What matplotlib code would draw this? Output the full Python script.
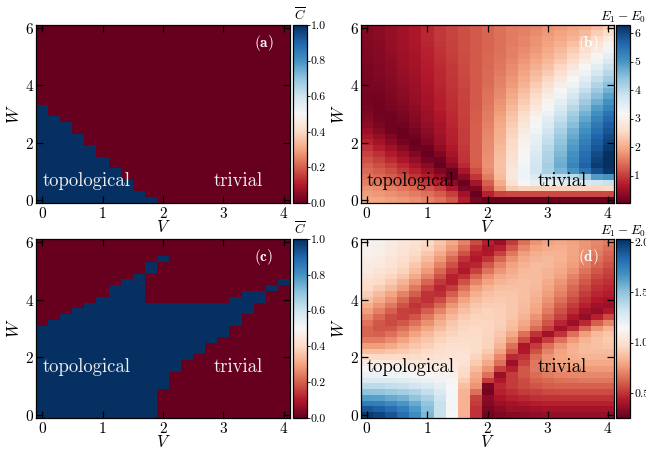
import numpy as np
import matplotlib
matplotlib.use("Agg")
import matplotlib.pyplot as plt

plt.rcParams['font.family'] = ['cmr10', 'DejaVu Serif']
plt.rcParams['mathtext.fontset'] = 'cm'
plt.rcParams['axes.formatter.use_mathtext'] = True
plt.rcParams['axes.unicode_minus'] = False

# grid
V_vals = [round(0.2 * i, 1) for i in range(21)]          # 0.0 .. 4.0
W_vals = [round(0.2 * j, 1) for j in range(31)]          # 0.0 .. 6.0

# (a) topological (C=1) cells: per V column, list of (W_low, W_high) intervals
topo_a = [[(0.0, 3.2)], [(0.0, 2.8)], [(0.0, 2.6)], [(0.0, 2.2)], [(0.0, 1.8)],
          [(0.0, 1.4)], [(0.0, 1.0)], [(0.0, 0.6)], [(0.0, 0.2)], [(0.0, 0.0)],
          [], [], [], [], [], [], [], [], [], [], []]

# (c) topological cells
topo_c = [[(0.0, 3.0)], [(0.0, 3.2)], [(0.0, 3.4)], [(0.0, 3.6)], [(0.0, 3.8)],
          [(0.0, 4.0)], [(0.0, 4.4)], [(0.0, 4.6)], [(0.0, 4.8)],
          [(0.0, 3.8), (5.0, 5.2)], [(1.0, 3.8), (5.4, 5.4)],
          [(1.6, 3.8)], [(2.0, 3.8)], [(2.2, 3.8)], [(2.6, 3.8)], [(2.8, 3.8)],
          [(3.2, 4.0)], [(3.6, 4.2)], [(4.0, 4.2)], [(4.4, 4.4)], [(4.6, 4.6)]]

# (b) E1 - E0, rows from W=6.0 (top) down to W=0.0, columns V=0.0..4.0
gap_b_rows_top_down = [
    [0.30, 0.35, 0.45, 0.55, 0.65, 0.80, 0.95, 1.05, 1.15, 1.25, 1.35, 1.45, 1.55, 1.60, 1.65, 1.75, 1.80, 1.90, 2.00, 2.20, 2.40],
    [0.30, 0.35, 0.45, 0.55, 0.65, 0.80, 0.95, 1.05, 1.15, 1.25, 1.35, 1.45, 1.55, 1.60, 1.70, 1.80, 1.90, 2.00, 2.15, 2.40, 2.60],
    [0.30, 0.35, 0.45, 0.55, 0.65, 0.80, 0.95, 1.05, 1.15, 1.25, 1.35, 1.45, 1.55, 1.65, 1.75, 1.85, 1.95, 2.10, 2.30, 2.55, 2.85],
    [0.28, 0.33, 0.43, 0.53, 0.63, 0.78, 0.92, 1.03, 1.15, 1.25, 1.35, 1.45, 1.55, 1.65, 1.75, 1.90, 2.05, 2.25, 2.45, 2.75, 3.05],
    [0.26, 0.32, 0.42, 0.52, 0.62, 0.76, 0.90, 1.02, 1.14, 1.25, 1.35, 1.45, 1.58, 1.70, 1.82, 1.98, 2.15, 2.38, 2.62, 2.92, 3.25],
    [0.25, 0.30, 0.40, 0.50, 0.60, 0.74, 0.88, 1.00, 1.13, 1.25, 1.36, 1.48, 1.60, 1.74, 1.88, 2.05, 2.25, 2.50, 2.80, 3.10, 3.45],
    [0.24, 0.29, 0.38, 0.48, 0.58, 0.72, 0.86, 0.98, 1.12, 1.25, 1.37, 1.50, 1.64, 1.80, 1.96, 2.15, 2.38, 2.65, 2.98, 3.30, 3.65],
    [0.23, 0.28, 0.36, 0.46, 0.56, 0.70, 0.84, 0.96, 1.10, 1.24, 1.38, 1.52, 1.68, 1.86, 2.04, 2.26, 2.52, 2.82, 3.15, 3.50, 3.85],
    [0.22, 0.26, 0.34, 0.44, 0.54, 0.68, 0.82, 0.95, 1.09, 1.24, 1.39, 1.55, 1.72, 1.92, 2.14, 2.38, 2.66, 2.98, 3.32, 3.70, 4.05],
    [0.21, 0.24, 0.32, 0.42, 0.52, 0.66, 0.80, 0.93, 1.08, 1.24, 1.40, 1.58, 1.78, 2.00, 2.24, 2.52, 2.82, 3.15, 3.50, 3.90, 4.25],
    [0.20, 0.22, 0.30, 0.40, 0.50, 0.64, 0.78, 0.92, 1.07, 1.24, 1.42, 1.62, 1.84, 2.08, 2.36, 2.66, 2.98, 3.32, 3.70, 4.10, 4.45],
    [0.19, 0.20, 0.28, 0.37, 0.48, 0.62, 0.76, 0.90, 1.06, 1.24, 1.44, 1.66, 1.90, 2.18, 2.48, 2.80, 3.14, 3.50, 3.90, 4.30, 4.65],
    [0.18, 0.18, 0.25, 0.34, 0.45, 0.60, 0.74, 0.88, 1.05, 1.24, 1.46, 1.70, 1.98, 2.28, 2.60, 2.94, 3.30, 3.68, 4.10, 4.50, 4.85],
    [0.18, 0.16, 0.22, 0.30, 0.42, 0.57, 0.72, 0.86, 1.04, 1.25, 1.48, 1.75, 2.06, 2.38, 2.72, 3.08, 3.46, 3.86, 4.28, 4.70, 5.05],
    [0.20, 0.15, 0.19, 0.27, 0.38, 0.54, 0.70, 0.85, 1.03, 1.26, 1.51, 1.80, 2.14, 2.48, 2.84, 3.22, 3.62, 4.04, 4.46, 4.90, 5.25],
    [0.24, 0.14, 0.16, 0.23, 0.34, 0.50, 0.67, 0.83, 1.02, 1.27, 1.54, 1.86, 2.22, 2.58, 2.96, 3.36, 3.78, 4.20, 4.64, 5.08, 5.45],
    [0.30, 0.17, 0.13, 0.19, 0.30, 0.46, 0.64, 0.81, 1.01, 1.28, 1.57, 1.92, 2.30, 2.68, 3.08, 3.50, 3.92, 4.36, 4.80, 5.25, 5.60],
    [0.38, 0.22, 0.12, 0.15, 0.26, 0.42, 0.60, 0.79, 1.00, 1.29, 1.60, 1.97, 2.38, 2.78, 3.20, 3.62, 4.06, 4.50, 4.95, 5.40, 5.75],
    [0.50, 0.30, 0.15, 0.11, 0.21, 0.37, 0.56, 0.77, 0.99, 1.30, 1.63, 2.02, 2.45, 2.88, 3.30, 3.74, 4.18, 4.63, 5.08, 5.52, 5.85],
    [0.62, 0.42, 0.24, 0.10, 0.14, 0.32, 0.52, 0.74, 0.98, 1.30, 1.66, 2.06, 2.50, 2.95, 3.40, 3.85, 4.30, 4.75, 5.20, 5.65, 5.95],
    [0.75, 0.56, 0.36, 0.18, 0.08, 0.24, 0.47, 0.71, 0.97, 1.30, 1.68, 2.10, 2.56, 3.02, 3.48, 3.94, 4.40, 4.86, 5.32, 5.75, 6.05],
    [0.90, 0.72, 0.52, 0.32, 0.12, 0.12, 0.40, 0.67, 0.96, 1.30, 1.70, 2.14, 2.60, 3.08, 3.55, 4.02, 4.50, 4.96, 5.42, 5.85, 6.15],
    [1.05, 0.88, 0.68, 0.48, 0.26, 0.06, 0.28, 0.60, 0.94, 1.30, 1.72, 2.18, 2.65, 3.13, 3.62, 4.10, 4.58, 5.05, 5.52, 5.95, 6.25],
    [1.18, 1.02, 0.84, 0.64, 0.42, 0.18, 0.12, 0.50, 0.90, 1.30, 1.74, 2.22, 2.70, 3.18, 3.68, 4.16, 4.66, 5.14, 5.60, 6.05, 6.30],
    [1.30, 1.16, 1.00, 0.80, 0.58, 0.34, 0.05, 0.35, 0.82, 1.28, 1.76, 2.26, 2.75, 3.24, 3.74, 4.22, 4.72, 5.22, 5.70, 6.12, 6.30],
    [1.40, 1.28, 1.14, 0.96, 0.76, 0.52, 0.25, 0.10, 0.62, 1.15, 1.70, 2.26, 2.82, 3.30, 3.76, 4.18, 4.60, 5.02, 5.45, 5.90, 6.20],
    [1.50, 1.40, 1.28, 1.12, 0.94, 0.72, 0.45, 0.08, 0.35, 0.92, 1.55, 2.18, 2.80, 3.30, 3.60, 3.80, 3.90, 4.00, 4.30, 4.90, 5.00],
    [1.60, 1.52, 1.42, 1.30, 1.14, 0.94, 0.70, 0.35, 0.10, 0.60, 1.30, 2.00, 2.70, 3.20, 3.40, 3.45, 3.50, 3.55, 3.65, 3.75, 3.85],
    [1.75, 1.68, 1.60, 1.50, 1.36, 1.20, 0.98, 0.65, 0.22, 0.25, 1.10, 1.80, 2.35, 2.45, 2.45, 2.45, 2.45, 2.45, 2.50, 2.50, 2.55],
    [1.85, 1.80, 1.74, 1.66, 1.56, 1.44, 1.28, 1.00, 0.55, 0.08, 0.75, 1.05, 1.10, 1.10, 1.10, 1.10, 1.10, 1.10, 1.10, 1.10, 1.10],
    [1.95, 1.92, 1.87, 1.80, 1.72, 1.62, 1.48, 1.22, 0.72, 0.20, 0.06, 0.08, 0.08, 0.08, 0.08, 0.08, 0.08, 0.08, 0.08, 0.08, 0.08],
]

# (d) E1 - E0, rows from W=6.0 (top) down to W=0.0
gap_d_rows_top_down = [
    [1.11, 1.10, 1.07, 1.03, 1.01, 0.96, 0.89, 0.80, 0.70, 0.56, 0.45, 0.38, 0.52, 0.65, 0.74, 0.78, 0.80, 0.78, 0.75, 0.71, 0.68],
    [1.10, 1.09, 1.06, 1.02, 0.99, 0.94, 0.86, 0.76, 0.64, 0.50, 0.41, 0.45, 0.59, 0.71, 0.78, 0.81, 0.82, 0.79, 0.75, 0.70, 0.65],
    [1.10, 1.08, 1.05, 1.01, 0.96, 0.90, 0.81, 0.70, 0.57, 0.45, 0.43, 0.53, 0.67, 0.77, 0.82, 0.84, 0.83, 0.79, 0.74, 0.68, 0.62],
    [1.09, 1.07, 1.03, 0.99, 0.94, 0.86, 0.76, 0.63, 0.50, 0.43, 0.50, 0.62, 0.73, 0.80, 0.84, 0.85, 0.83, 0.78, 0.72, 0.65, 0.60],
    [1.07, 1.05, 1.02, 0.96, 0.90, 0.81, 0.70, 0.57, 0.45, 0.46, 0.59, 0.70, 0.78, 0.83, 0.86, 0.85, 0.82, 0.77, 0.70, 0.62, 0.57],
    [1.05, 1.02, 0.99, 0.94, 0.86, 0.76, 0.63, 0.51, 0.43, 0.53, 0.66, 0.75, 0.81, 0.85, 0.86, 0.84, 0.80, 0.74, 0.66, 0.59, 0.54],
    [1.02, 1.00, 0.95, 0.89, 0.80, 0.70, 0.57, 0.45, 0.49, 0.62, 0.73, 0.80, 0.84, 0.86, 0.86, 0.83, 0.78, 0.70, 0.62, 0.55, 0.52],
    [1.00, 0.96, 0.91, 0.84, 0.74, 0.62, 0.51, 0.45, 0.57, 0.70, 0.78, 0.84, 0.86, 0.87, 0.86, 0.81, 0.75, 0.67, 0.59, 0.52, 0.49],
    [0.96, 0.92, 0.86, 0.78, 0.67, 0.55, 0.46, 0.52, 0.65, 0.77, 0.84, 0.87, 0.88, 0.87, 0.85, 0.79, 0.72, 0.63, 0.55, 0.49, 0.46],
    [0.92, 0.86, 0.79, 0.70, 0.60, 0.50, 0.48, 0.60, 0.72, 0.82, 0.87, 0.89, 0.89, 0.87, 0.84, 0.77, 0.69, 0.60, 0.52, 0.46, 0.44],
    [0.87, 0.81, 0.73, 0.63, 0.53, 0.49, 0.55, 0.68, 0.78, 0.86, 0.90, 0.91, 0.90, 0.87, 0.82, 0.74, 0.65, 0.56, 0.48, 0.43, 0.40],
    [0.82, 0.75, 0.67, 0.57, 0.50, 0.53, 0.63, 0.75, 0.84, 0.89, 0.92, 0.92, 0.90, 0.86, 0.80, 0.71, 0.61, 0.52, 0.45, 0.39, 0.37],
    [0.77, 0.69, 0.61, 0.53, 0.52, 0.60, 0.70, 0.80, 0.87, 0.92, 0.94, 0.93, 0.90, 0.85, 0.78, 0.68, 0.57, 0.48, 0.40, 0.36, 0.43],
    [0.71, 0.63, 0.56, 0.53, 0.58, 0.67, 0.77, 0.85, 0.91, 0.94, 0.94, 0.93, 0.89, 0.83, 0.74, 0.63, 0.53, 0.43, 0.36, 0.45, 0.56],
    [0.66, 0.59, 0.55, 0.59, 0.65, 0.73, 0.82, 0.89, 0.94, 0.95, 0.95, 0.93, 0.87, 0.80, 0.70, 0.58, 0.46, 0.37, 0.47, 0.61, 0.71],
    [0.62, 0.58, 0.59, 0.65, 0.72, 0.79, 0.86, 0.92, 0.95, 0.96, 0.95, 0.92, 0.86, 0.77, 0.64, 0.52, 0.39, 0.47, 0.62, 0.75, 0.83],
    [0.62, 0.61, 0.65, 0.71, 0.78, 0.85, 0.91, 0.94, 0.97, 0.97, 0.95, 0.90, 0.80, 0.65, 0.50, 0.39, 0.50, 0.65, 0.77, 0.85, 0.89],
    [0.68, 0.68, 0.72, 0.78, 0.85, 0.89, 0.94, 0.97, 0.98, 0.98, 0.94, 0.87, 0.74, 0.56, 0.41, 0.52, 0.65, 0.76, 0.84, 0.88, 0.91],
    [0.77, 0.77, 0.80, 0.85, 0.89, 0.93, 0.96, 0.99, 1.00, 0.98, 0.94, 0.84, 0.65, 0.41, 0.52, 0.65, 0.75, 0.82, 0.86, 0.88, 0.89],
    [0.87, 0.87, 0.89, 0.91, 0.94, 0.96, 0.99, 1.01, 1.01, 0.97, 0.91, 0.78, 0.59, 0.43, 0.57, 0.70, 0.78, 0.83, 0.86, 0.86, 0.86],
    [0.98, 0.97, 0.97, 0.97, 0.98, 0.99, 1.01, 1.02, 1.02, 0.94, 0.86, 0.71, 0.47, 0.50, 0.64, 0.74, 0.79, 0.82, 0.84, 0.84, 0.84],
    [1.07, 1.06, 1.05, 1.04, 1.03, 1.03, 1.03, 1.04, 1.01, 0.91, 0.80, 0.65, 0.38, 0.54, 0.67, 0.74, 0.78, 0.79, 0.80, 0.80, 0.80],
    [1.14, 1.13, 1.12, 1.10, 1.09, 1.08, 1.07, 1.06, 0.98, 0.86, 0.74, 0.53, 0.45, 0.59, 0.67, 0.71, 0.74, 0.75, 0.76, 0.76, 0.76],
    [1.19, 1.19, 1.18, 1.18, 1.16, 1.13, 1.10, 1.10, 0.96, 0.81, 0.65, 0.38, 0.52, 0.59, 0.64, 0.68, 0.70, 0.71, 0.71, 0.71, 0.71],
    [1.27, 1.27, 1.26, 1.25, 1.23, 1.20, 1.17, 1.12, 0.92, 0.78, 0.52, 0.43, 0.52, 0.56, 0.61, 0.63, 0.65, 0.66, 0.67, 0.67, 0.67],
    [1.37, 1.37, 1.35, 1.34, 1.31, 1.27, 1.23, 1.14, 0.87, 0.75, 0.30, 0.47, 0.52, 0.55, 0.58, 0.60, 0.61, 0.61, 0.61, 0.61, 0.61],
    [1.50, 1.49, 1.47, 1.44, 1.41, 1.35, 1.27, 1.15, 0.84, 0.65, 0.29, 0.45, 0.48, 0.52, 0.53, 0.55, 0.56, 0.56, 0.56, 0.56, 0.56],
    [1.63, 1.62, 1.59, 1.56, 1.50, 1.43, 1.32, 1.15, 0.83, 0.54, 0.34, 0.41, 0.45, 0.47, 0.49, 0.50, 0.50, 0.50, 0.50, 0.50, 0.50],
    [1.76, 1.75, 1.71, 1.66, 1.59, 1.49, 1.34, 1.15, 0.83, 0.52, 0.32, 0.37, 0.40, 0.43, 0.44, 0.45, 0.45, 0.45, 0.45, 0.45, 0.45],
    [1.90, 1.87, 1.82, 1.75, 1.65, 1.52, 1.34, 1.15, 0.83, 0.50, 0.30, 0.34, 0.37, 0.38, 0.39, 0.40, 0.40, 0.40, 0.40, 0.40, 0.40],
    [1.99, 1.96, 1.90, 1.81, 1.69, 1.54, 1.34, 1.14, 0.83, 0.50, 0.29, 0.31, 0.33, 0.34, 0.35, 0.36, 0.36, 0.36, 0.36, 0.36, 0.36],
]

panel_letters = ['a', 'b', 'c', 'd']
phase_labels = ['topological', 'trivial']
cbar_labels = [r'$\overline{C}$', r'$E_1-E_0$']
cbar_ticks_C = [0.0, 0.2, 0.4, 0.6, 0.8, 1.0]
cbar_ticks_b = [1, 2, 3, 4, 5, 6]
cbar_ticks_d = [0.5, 1.0, 1.5, 2.0]
range_b = (0.04, 6.29)
range_d = (0.25, 2.03)


def binary_map(intervals):
    M = np.zeros((len(W_vals), len(V_vals)))
    for i, ivs in enumerate(intervals):
        for lo, hi in ivs:
            for j, w in enumerate(W_vals):
                if lo - 1e-9 <= w <= hi + 1e-9:
                    M[j, i] = 1.0
    return M  # row 0 = W=0


C_a = binary_map(topo_a)
C_c = binary_map(topo_c)
G_b = np.array(gap_b_rows_top_down)[::-1]
G_d = np.array(gap_d_rows_top_down)[::-1]

FW, FH = 646, 449
fig = plt.figure(figsize=(FW / 100, FH / 100), dpi=100)


def box(x0, y0, x1, y1):
    return [x0 / FW, 1 - y1 / FH, (x1 - x0) / FW, (y1 - y0) / FH]


ax_boxes = [box(36, 25, 290, 203), box(361, 25, 614, 203),
            box(36, 239, 290, 418), box(361, 239, 614, 418)]
cb_boxes = [box(292.5, 25, 306.5, 203), box(616, 25, 630, 203),
            box(292.5, 239, 306.5, 418), box(616, 239, 630, 418)]

dV = V_vals[1] - V_vals[0]
dW = W_vals[1] - W_vals[0]
extent = [V_vals[0] - dV / 2, V_vals[-1] + dV / 2, W_vals[0] - dW / 2, W_vals[-1] + dW / 2]

data = [C_a, G_b, C_c, G_d]
ranges = [(0, 1), range_b, (0, 1), range_d]
label_y = [0.67, 0.67, 1.66, 1.66]
label_color = ['#f0f0f0', 'black', '#f0f0f0', 'black']

for k in range(4):
    ax = fig.add_axes(ax_boxes[k])
    im = ax.imshow(data[k], origin='lower', extent=extent, aspect='auto',
                   cmap='RdBu', vmin=ranges[k][0], vmax=ranges[k][1],
                   interpolation='nearest')
    ax.set_xlim(extent[0], extent[1])
    ax.set_ylim(extent[2], extent[3])
    ax.set_xticks([0, 1, 2, 3, 4])
    ax.set_yticks([0, 2, 4, 6])
    ax.tick_params(direction='in', top=True, right=True, length=5, width=0.9,
                   labelsize=11, pad=2)
    ax.tick_params(axis='y', pad=1.5)
    for s in ax.spines.values():
        s.set_linewidth(0.9)
    ax.set_xlabel(r'$V$', fontsize=12, labelpad=-1)
    ax.set_ylabel(r'$W$', fontsize=12, labelpad=2)
    ax.text(3.67, 5.47, r'$(\mathbf{%s})$' % panel_letters[k], color='white',
            fontsize=11, ha='center', va='center')
    ax.text(0.73, label_y[k], phase_labels[0], color=label_color[k],
            fontsize=13.5, ha='center', va='center')
    ax.text(3.25, label_y[k], phase_labels[1], color=label_color[k],
            fontsize=13.5, ha='center', va='center')

    cax = fig.add_axes(cb_boxes[k])
    cb = fig.colorbar(im, cax=cax)
    if k in (0, 2):
        cb.set_ticks(cbar_ticks_C)
        cb.set_ticklabels(['%.1f' % t for t in cbar_ticks_C])
        title = cbar_labels[0]
    elif k == 1:
        cb.set_ticks(cbar_ticks_b)
        cb.set_ticklabels(['%d' % t for t in cbar_ticks_b])
        title = cbar_labels[1]
    else:
        cb.set_ticks(cbar_ticks_d)
        cb.set_ticklabels(['%.1f' % t for t in cbar_ticks_d])
        title = cbar_labels[1]
    cb.outline.set_linewidth(0.9)
    cax.tick_params(direction='out', length=2, width=0.6, labelsize=8.5, pad=1)
    cax.set_title(title, fontsize=9.5, pad=3)

fig.savefig('out.png', dpi=100)
